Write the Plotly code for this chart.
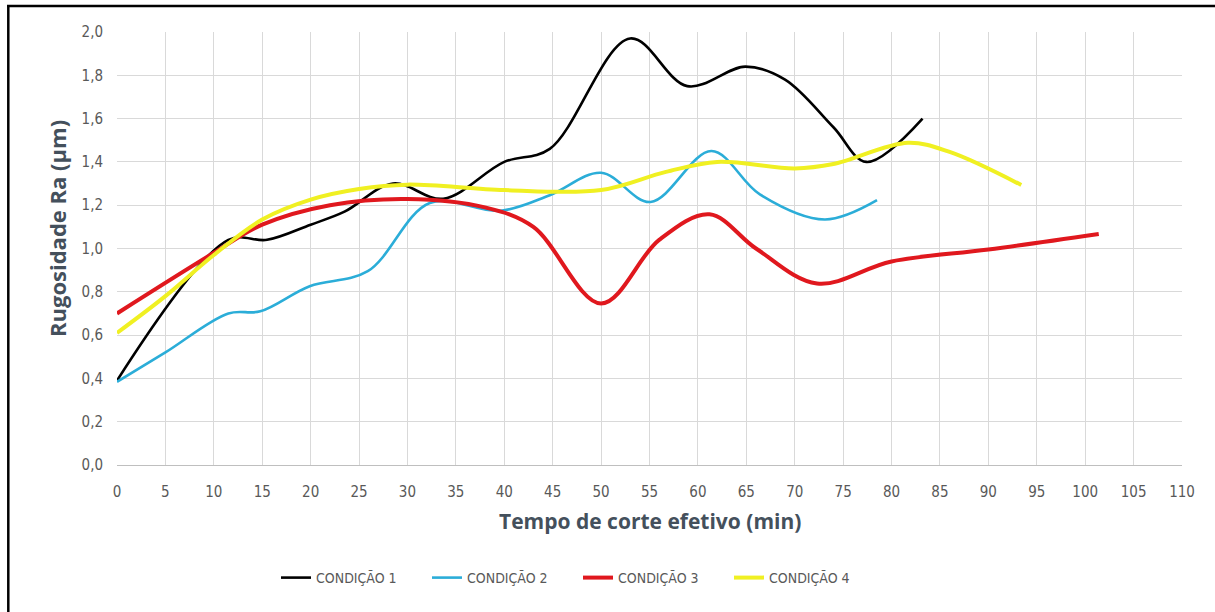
import plotly.graph_objects as go

# ---- data ----
x_c1 = [0, 11.5, 15.5, 20, 23.5, 28.5, 33.7, 40, 44.7, 53, 58.9, 64.9, 69, 74, 77.4, 83.2]
y_c1 = [0.39, 1.04, 1.04, 1.11, 1.17, 1.30, 1.23, 1.40, 1.46, 1.97, 1.75, 1.84, 1.78, 1.56, 1.40, 1.60]

x_c2 = [0, 5, 11.5, 14.8, 19.9, 25.9, 32.3, 39.6, 44.7, 50, 55.1, 61.4, 66.4, 73.1, 78.5]
y_c2 = [0.384, 0.52, 0.70, 0.71, 0.826, 0.895, 1.21, 1.174, 1.246, 1.35, 1.215, 1.45, 1.25, 1.134, 1.223]

x_c3 = [0, 10, 15, 22, 30, 38, 43, 50, 56, 61.2, 66, 72.3, 80, 90, 101.4]
y_c3 = [0.70, 0.98, 1.11, 1.20, 1.229, 1.19, 1.10, 0.746, 1.04, 1.158, 1.0, 0.838, 0.94, 0.995, 1.067]

x_c4 = [0, 5, 10, 15, 20, 25, 30, 40, 50, 56.7, 62, 70, 74, 81.7, 86, 93.4]
y_c4 = [0.61, 0.78, 0.97, 1.134, 1.226, 1.275, 1.295, 1.27, 1.27, 1.354, 1.40, 1.37, 1.39, 1.488, 1.446, 1.293]

names = ["CONDIÇÃO 1", "CONDIÇÃO 2", "CONDIÇÃO 3", "CONDIÇÃO 4"]
colors = ["#000000", "#2BADD8", "#E0181E", "#F0F022"]
widths = [2.6, 2.6, 4, 4]

x_title = "Tempo de corte efetivo (min)"
y_title = "Rugosidade Ra (µm)"

# ---- layout geometry (pixels) ----
W, H = 1215, 612
L, R, T, B = 117, 33, 32, 147
pw, ph = W - L - R, H - T - B

def px2x(px):
    return (px - L) / pw

def px2y(py):
    return (H - B - py) / ph

narrow = "DejaVu Sans Condensed, Liberation Sans Narrow, sans-serif"
boldfont = "Open Sans, Lato, DejaVu Sans, sans-serif"

fig = go.Figure()
for xs, ys, n, c, w in zip([x_c1, x_c2, x_c3, x_c4], [y_c1, y_c2, y_c3, y_c4], names, colors, widths):
    fig.add_trace(go.Scatter(x=xs, y=ys, name=n, mode="lines",
                             line=dict(color=c, width=w, shape="spline", smoothing=1.0)))

fig.update_layout(
    width=W, height=H,
    margin=dict(l=L, r=R, t=T, b=B),
    paper_bgcolor="white", plot_bgcolor="white",
    separators=", ",
    showlegend=True,
    legend=dict(orientation="h", x=px2x(276), xanchor="left", y=px2y(578), yanchor="middle",
                font=dict(family=narrow, size=14, color="#595959"),
                entrywidth=106, entrywidthmode="pixels", itemwidth=30,
                bgcolor="rgba(0,0,0,0)"),
    xaxis=dict(range=[0, 110], dtick=5, tick0=0, showgrid=True, gridcolor="#D9D9D9", gridwidth=1,
               zeroline=False, showline=True, linecolor="#BFBFBF", linewidth=1,
               ticks="", tickfont=dict(family=narrow, size=15, color="#595959"),
               ticklabelstandoff=13),
    yaxis=dict(range=[0, 2.0], dtick=0.2, tick0=0, tickformat=".1f", showgrid=True,
               gridcolor="#D9D9D9", gridwidth=1, zeroline=False, showline=False,
               ticks="", tickfont=dict(family=narrow, size=15, color="#595959"),
               ticklabelstandoff=13),
)

# axis titles
fig.add_annotation(text="<b>" + x_title + "</b>", xref="paper", yref="paper",
                   x=px2x(650), y=px2y(521), xanchor="center", yanchor="middle", showarrow=False,
                   font=dict(family=boldfont, size=21, color="#44505C"))
fig.add_annotation(text="<b>" + y_title + "</b>", xref="paper", yref="paper",
                   x=px2x(57), y=px2y(229), xanchor="center", yanchor="middle", showarrow=False,
                   textangle=-90, font=dict(family=boldfont, size=22, color="#44505C"))

# outer frame (top and left edges of cropped picture)
fig.add_shape(type="line", xref="paper", yref="paper", x0=px2x(7), x1=px2x(1216),
              y0=px2y(6), y1=px2y(6), line=dict(color="black", width=2.5))
fig.add_shape(type="line", xref="paper", yref="paper", x0=px2x(8.3), x1=px2x(8.3),
              y0=px2y(5), y1=px2y(615), line=dict(color="black", width=2.5))

fig.write_html("out.html", config={"displayModeBar": False},
               post_script="document.body.style.margin='0';")
